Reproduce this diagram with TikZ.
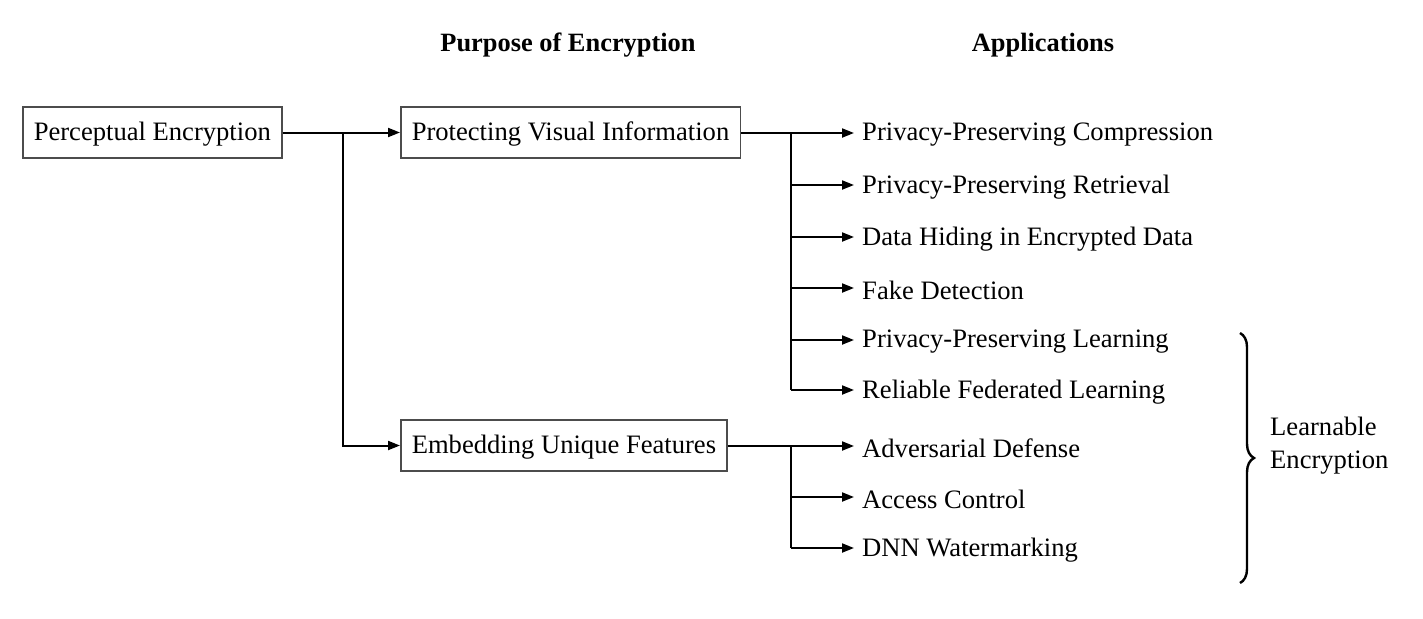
\documentclass[tikz,border=0pt]{standalone}
\usepackage{fontspec}
\setmainfont{Liberation Serif}
\usetikzlibrary{arrows.meta,decorations.pathreplacing}
\begin{document}
\begin{tikzpicture}[x=1pt,y=-1pt,
  font=\fontsize{26.6}{33}\selectfont,
  box/.style={draw=black!70,line width=1.5pt,inner xsep=11pt,minimum height=51pt,text height=19pt,text depth=3pt,anchor=west},
  app/.style={anchor=west,inner sep=0pt,yshift=-2pt},
  hdr/.style={font=\fontsize{26.4}{30}\selectfont\bfseries},
  conn/.style={line width=2pt},
  arr/.style={conn,-{Triangle[length=12pt,width=9pt]}}]
\useasboundingbox (0,0) rectangle (1423,618);
\node[hdr] (h1) at (568,45) {Purpose of Encryption};
\node[hdr] (h2) at (1043,45) {Applications};
\node[box] (pe) at (22,132.5) {Perceptual Encryption};
\node[box] (pvi) at (400,132.5) {Protecting Visual Information};
\node[box] (euf) at (400,445.5) {Embedding Unique Features};
\coordinate (j0) at (343,132.5);
\coordinate (j0b) at (343,445.5);
\draw[arr] (pe.east) -- (pvi.west);
\draw[arr] (j0) -- (j0b) -- (euf.west);
% applications
\coordinate (p1) at (862,133);
\coordinate (p2) at (862,185);
\coordinate (p3) at (862,237);
\coordinate (p4) at (862,288);
\coordinate (p5) at (862,340);
\coordinate (p6) at (862,390);
\coordinate (p7) at (862,446);
\coordinate (p8) at (862,497);
\coordinate (p9) at (862,548);
\node[app] (a1) at (p1) {Privacy-Preserving Compression};
\node[app] (a2) at (p2) {Privacy-Preserving Retrieval};
\node[app] (a3) at (p3) {Data Hiding in Encrypted Data};
\node[app] (a4) at (p4) {Fake Detection};
\node[app] (a5) at (p5) {Privacy-Preserving Learning};
\node[app] (a6) at (p6) {Reliable Federated Learning};
\node[app] (a7) at (p7) {Adversarial Defense};
\node[app] (a8) at (p8) {Access Control};
\node[app] (a9) at (p9) {DNN Watermarking};
\coordinate (j1) at (791,132.5);
\coordinate (j2) at (791,445.5);
\draw[conn] (pvi.east) -- (j1);
\draw[conn] (euf.east) -- (j2);
\foreach \p in {p1,p2,p3,p4,p5,p6}{
  \draw[arr] (j1 |- \p) -- ([xshift=-8pt]\p);
}
\draw[conn] (j1) -- (j1 |- p6);
\foreach \p in {p7,p8,p9}{
  \draw[arr] (j2 |- \p) -- ([xshift=-8pt]\p);
}
\draw[conn] (j2) -- (j2 |- p9);
% brace
\coordinate (b1) at (1240,333);
\coordinate (b2) at (1240,583);
\draw[line width=2.4pt,decorate,decoration={brace,amplitude=14pt}] (b1) -- (b2);
\node[anchor=west,align=left,inner sep=0pt] (le) at (1270,446) {Learnable\\Encryption};
\end{tikzpicture}
\end{document}
